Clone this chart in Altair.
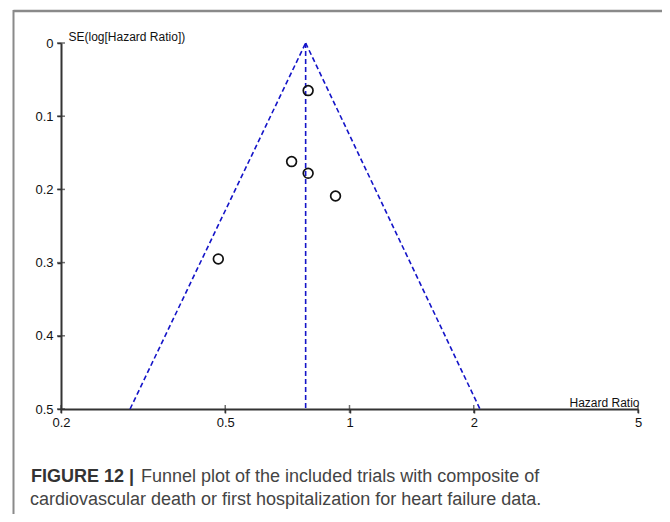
import altair as alt
import pandas as pd

# Study estimates
study_hr = [0.794, 0.724, 0.794, 0.925, 0.481]
study_se = [0.065, 0.162, 0.178, 0.209, 0.295]

# Funnel (pooled estimate and 95% limits at max SE)
funnel_group = ["left", "left", "mid", "mid", "right", "right"]
funnel_hr = [0.783, 0.294, 0.783, 0.783, 0.783, 2.07]
funnel_se = [0.0, 0.5, 0.0, 0.5, 0.0, 0.5]

x_ticks = [0.2, 0.5, 1, 2, 5]
y_ticks = [0, 0.1, 0.2, 0.3, 0.4, 0.5]

caption_bold = ["FIGURE 12 |"]
caption_line1 = ["Funnel plot of the included trials with composite of"]
caption_line2 = ["cardiovascular death or first hospitalization for heart failure data."]

FONT = "Liberation Sans"
W, H = 577, 366

pts = pd.DataFrame({"hr": study_hr, "se": study_se})
fun = pd.DataFrame({"g": funnel_group, "hr": funnel_hr, "se": funnel_se})
xt = pd.DataFrame({"hr": x_ticks})
yt = pd.DataFrame({"se": y_ticks})

xscale = alt.Scale(type="log", domain=[0.2, 5], nice=False)
yscale = alt.Scale(domain=[0, 0.5], reverse=True, nice=False, zero=False)

xaxis = alt.Axis(values=x_ticks, format="~g", grid=False, title="Hazard Ratio",
                 titleAngle=0, titleAlign="right", titleX=W + 1, titleY=-3,
                 titleBaseline="alphabetic", titleFontWeight="normal",
                 tickSize=4, labelPadding=3, labelFlush=False, labelOverlap=False)
yaxis = alt.Axis(values=y_ticks, format="~g", grid=False, title="SE(log[Hazard Ratio])",
                 titleAngle=0, titleAlign="left", titleX=7, titleY=-3,
                 titleBaseline="alphabetic", titleFontWeight="normal",
                 tickSize=4, labelPadding=4, labelFlush=False, labelOverlap=False)

X = alt.X("hr:Q", scale=xscale, axis=xaxis)
Y = alt.Y("se:Q", scale=yscale, axis=yaxis)

lines = alt.Chart(fun).mark_line(color="#1414c8", strokeWidth=1.6, strokeDash=[5, 3]).encode(
    x=X, y=Y, detail="g:N",
)

points = alt.Chart(pts).mark_point(shape="circle", filled=False, color="#111",
                                   size=95, strokeWidth=1.7, opacity=1).encode(
    x=X, y=Y,
)

xticks_in = alt.Chart(xt).mark_tick(color="#333", size=8, thickness=1.5).encode(
    x=X, y=alt.value(H),
)
yticks_in = alt.Chart(yt).mark_tick(color="#333", size=8, thickness=1.5).encode(
    y=Y, x=alt.value(0),
)

frame_top = alt.Chart(pd.DataFrame({"a": [0]})).mark_rule(color="#8a8a8a", strokeWidth=2.5).encode(
    x=alt.value(-47.5), x2=alt.value(620), y=alt.value(-32))
frame_left = alt.Chart(pd.DataFrame({"a": [0]})).mark_rule(color="#8a8a8a", strokeWidth=2).encode(
    x=alt.value(-47.5), y=alt.value(-33), y2=alt.value(480))

cap_b = alt.Chart(pd.DataFrame({"t": caption_bold})).mark_text(
    font=FONT, fontSize=18, fontWeight="bold", color="#333", align="left", baseline="alphabetic").encode(
    text="t:N", x=alt.value(-30), y=alt.value(439))
cap_1 = alt.Chart(pd.DataFrame({"t": caption_line1})).mark_text(
    font=FONT, fontSize=18, color="#444", align="left", baseline="alphabetic").encode(
    text="t:N", x=alt.value(80), y=alt.value(439))
cap_2 = alt.Chart(pd.DataFrame({"t": caption_line2})).mark_text(
    font=FONT, fontSize=18, color="#444", align="left", baseline="alphabetic").encode(
    text="t:N", x=alt.value(-31), y=alt.value(462))

chart = alt.layer(lines, points, xticks_in, yticks_in, frame_top, frame_left, cap_b, cap_1, cap_2).properties(
    width=W, height=H,
    autosize=alt.AutoSizeParams(type="none"),
    padding={"left": 53, "top": 35, "right": 24, "bottom": 105},
).configure_view(stroke=None).configure_axis(
    domainColor="#333", domainWidth=2, tickColor="#333", tickWidth=1.5,
    labelFont=FONT, labelFontSize=13, labelColor="#111",
    titleFont=FONT, titleFontSize=12, titleColor="#111",
)

chart.save("out.html", embed_options={"renderer": "svg", "actions": False})
